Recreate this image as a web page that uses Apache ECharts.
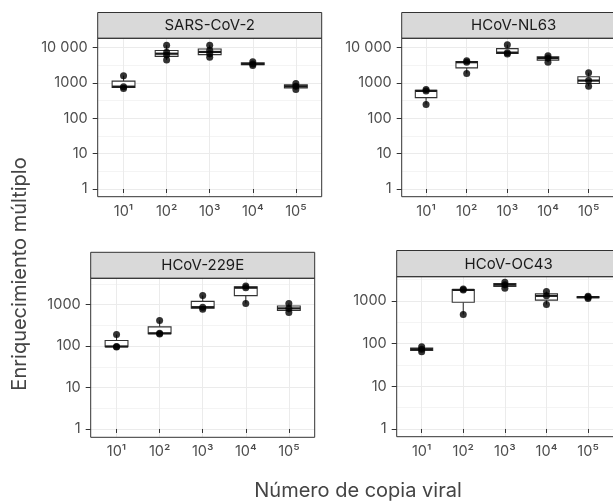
<!DOCTYPE html>
<html><head><meta charset="utf-8">
<script src="https://cdn.jsdelivr.net/npm/echarts@6/dist/echarts.min.js"></script>
<style>html,body{margin:0;padding:0;background:#fff}#c{width:613px;height:502px}</style>
</head><body><div id="c"></div>
<script>
// ---- data ----
const categories = ['10¹', '10²', '10³', '10⁴', '10⁵'];
const yTickValues = [1, 10, 100, 1000, 10000];
const yTickLabels = ['1', '10', '100', '1000', '10 000'];
const panelNames = ['SARS-CoV-2', 'HCoV-NL63', 'HCoV-229E', 'HCoV-OC43'];
// fold enrichment replicates per viral copy number
const sarsCoV2 = [[692, 776, 1585], [4365, 6026, 7244, 11482], [5248, 6607, 8318, 11482], [3090, 3388, 3890], [646, 794, 955]];
const hcovNL63 = [[245, 589, 646], [1820, 3800, 4170], [6460, 7080, 11900], [3800, 5010, 5750], [795, 1150, 1905]];
const hcov229E = [[95, 98, 190], [195, 204, 417], [776, 871, 1660], [1070, 2570, 2820], [646, 813, 1070]];
const hcovOC43 = [[65, 74, 85], [479, 1820, 1905], [2000, 2400, 2750], [832, 1320, 1660], [1150, 1230, 1290]];
const panelData = [sarsCoV2, hcovNL63, hcov229E, hcovOC43];

// ---- layout ----
const PANEL_W = 224;
const layout = [
  { left: 97.7, top: 38.3, height: 158.4, stripTop: 12.5, yMin: -0.217, yMax: 4.255 },
  { left: 401.7, top: 38.3, height: 158.4, stripTop: 12.5, yMin: -0.217, yMax: 4.255 },
  { left: 90.7, top: 278.3, height: 159, stripTop: 252.3, yMin: -0.201, yMax: 3.637 },
  { left: 396.7, top: 276.7, height: 160, stripTop: 250.5, yMin: -0.181, yMax: 3.569 }
];
const BOX_WIDTH = 0.53;
const FONT = 'Inter, "Noto Sans", sans-serif';

function quantile(sorted, p) {
  const h = (sorted.length - 1) * p;
  const lo = Math.floor(h), hi = Math.ceil(h);
  return sorted[lo] + (h - lo) * (sorted[hi] - sorted[lo]);
}
function boxStats(values) {
  const s = values.map(Math.log10).sort((a, b) => a - b);
  const q1 = quantile(s, 0.25), med = quantile(s, 0.5), q3 = quantile(s, 0.75);
  const iqr = q3 - q1;
  const inside = s.filter(v => v >= q1 - 1.5 * iqr && v <= q3 + 1.5 * iqr);
  return [inside[0], q1, med, q3, inside[inside.length - 1]];
}

const grids = [], xAxes = [], yAxes = [], series = [], graphics = [];
layout.forEach((L, i) => {
  grids.push({ left: L.left, top: L.top, width: PANEL_W, height: L.height, show: false });
  const xVals = categories.map((c, k) => k + 1);
  xAxes.push({
    gridIndex: i, type: 'value', min: 0.4, max: 5.6,
    axisLine: { show: false },
    axisTick: { show: true, length: 4, lineStyle: { color: '#333', width: 1 }, customValues: xVals },
    axisLabel: { customValues: xVals, formatter: v => categories[Math.round(v) - 1] || '', color: '#4d4d4d', fontSize: 14.5, margin: 7, fontFamily: FONT },
    splitLine: { show: true, lineStyle: { color: '#ebebeb', width: 1 } }
  });
  const yt = yTickValues.map(Math.log10).filter(v => v >= L.yMin && v <= L.yMax);
  yAxes.push({
    gridIndex: i, type: 'value', min: L.yMin, max: L.yMax,
    axisLine: { show: false },
    axisTick: { show: true, length: 5, lineStyle: { color: '#333', width: 1 }, customValues: yt },
    axisLabel: { customValues: yt, formatter: v => { const k = Math.round(v); return Math.abs(v - k) < 1e-6 ? (yTickLabels[k] || '') : ''; }, color: '#4d4d4d', fontSize: 14.5, margin: 10, fontFamily: FONT },
    splitLine: { show: true, lineStyle: { color: '#ebebeb', width: 1 } },
    minorTick: { show: false, splitNumber: 2 },
    minorSplitLine: { show: true, lineStyle: { color: '#f4f4f4', width: 1 } }
  });
  const groups = panelData[i];
  series.push({
    type: 'custom', xAxisIndex: i, yAxisIndex: i, z: 3,
    data: groups.map((g, k) => [k + 1].concat(boxStats(g))),
    encode: { x: 0, y: [1, 2, 3, 4, 5] },
    renderItem: (params, api) => {
      const x = api.value(0);
      const pLo = api.coord([x, api.value(1)]);
      const pQ1 = api.coord([x, api.value(2)]);
      const pMed = api.coord([x, api.value(3)]);
      const pQ3 = api.coord([x, api.value(4)]);
      const pHi = api.coord([x, api.value(5)]);
      const hw = api.size([BOX_WIDTH, 0])[0] / 2;
      const st = { stroke: '#333', lineWidth: 1.1 };
      return { type: 'group', children: [
        { type: 'line', shape: { x1: pHi[0], y1: pHi[1], x2: pQ3[0], y2: pQ3[1] }, style: st },
        { type: 'line', shape: { x1: pQ1[0], y1: pQ1[1], x2: pLo[0], y2: pLo[1] }, style: st },
        { type: 'rect', shape: { x: pQ3[0] - hw, y: pQ3[1], width: 2 * hw, height: pQ1[1] - pQ3[1] }, style: { fill: '#fff', stroke: '#333', lineWidth: 1.1 } },
        { type: 'line', shape: { x1: pMed[0] - hw, y1: pMed[1], x2: pMed[0] + hw, y2: pMed[1] }, style: { stroke: '#1a1a1a', lineWidth: 2.2 } }
      ] };
    }
  });
  const pts = [];
  groups.forEach((g, k) => g.forEach(v => pts.push([k + 1, Math.log10(v)])));
  series.push({
    type: 'scatter', xAxisIndex: i, yAxisIndex: i, z: 4,
    data: pts, symbol: 'circle', symbolSize: 7,
    itemStyle: { color: '#000' }, silent: true
  });
  // strip and panel border
  graphics.push({
    type: 'rect', z: 50,
    shape: { x: L.left, y: L.stripTop, width: PANEL_W, height: L.top - L.stripTop },
    style: { fill: '#d9d9d9', stroke: '#333', lineWidth: 1 }
  });
  graphics.push({
    type: 'text', z: 51, x: L.left + PANEL_W / 2, y: (L.stripTop + L.top) / 2 + 0.5,
    style: { text: panelNames[i], fill: '#1a1a1a', font: '15px ' + FONT, align: 'center', verticalAlign: 'middle' }
  });
  graphics.push({
    type: 'rect', z: 50,
    shape: { x: L.left, y: L.top, width: PANEL_W, height: L.height },
    style: { fill: 'none', stroke: '#333', lineWidth: 1 }
  });
});
graphics.push({
  type: 'text', z: 51, x: 20, y: 274, rotation: Math.PI / 2,
  style: { text: 'Enriquecimiento múltiplo', fill: '#444', font: '20px ' + FONT, align: 'center', verticalAlign: 'middle' }
});
graphics.push({
  type: 'text', z: 51, x: 358, y: 491,
  style: { text: 'Número de copia viral', fill: '#444', font: '20px ' + FONT, align: 'center', verticalAlign: 'middle' }
});

const chart = echarts.init(document.getElementById('c'), null, { renderer: 'canvas' });
chart.setOption({
  animation: false,
  backgroundColor: '#fff',
  grid: grids, xAxis: xAxes, yAxis: yAxes, series: series, graphic: graphics
});
</script>
</body></html>
